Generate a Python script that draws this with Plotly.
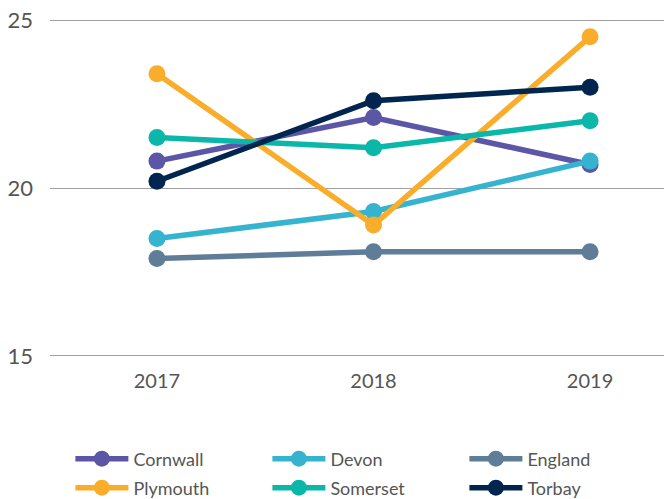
import plotly.graph_objects as go

years = [2017, 2018, 2019]
cornwall = [20.8, 22.1, 20.7]
devon = [18.5, 19.3, 20.8]
england = [17.9, 18.1, 18.1]
plymouth = [23.4, 18.9, 24.5]
somerset = [21.5, 21.2, 22.0]
torbay = [20.2, 22.6, 23.0]

series = [
    ("Cornwall", cornwall, "#5B57A6", "legend"),
    ("Devon", devon, "#36B3CF", "legend"),
    ("England", england, "#5F7C99", "legend"),
    ("Plymouth", plymouth, "#F9AD2A", "legend2"),
    ("Somerset", somerset, "#0BB7A9", "legend2"),
    ("Torbay", torbay, "#00264F", "legend2"),
]

fig = go.Figure()
for name, vals, col, leg in series:
    fig.add_trace(go.Scatter(
        x=years, y=vals, name=name, mode="lines+markers",
        line=dict(color=col, width=5.5),
        marker=dict(color=col, size=17),
        legend=leg,
    ))

legend_common = dict(
    orientation="h", xanchor="left", yanchor="middle",
    entrywidth=129, entrywidthmode="pixels",
    font=dict(size=18, color="#555555"),
    itemwidth=53, bgcolor="rgba(0,0,0,0)",
)

fig.update_layout(
    width=672, height=499,
    margin=dict(l=42, r=12, t=11, b=150, autoexpand=False),
    paper_bgcolor="white", plot_bgcolor="white",
    font=dict(family="Lato, sans-serif", color="#555555"),
    showlegend=True,
    legend=dict(x=0.033, y=-(451 - 349) / 338, **legend_common),
    legend2=dict(x=0.033, y=-(480 - 349) / 338, **legend_common),
    xaxis=dict(
        range=[2017 - 0.494, 2019 + 0.36],
        tickvals=years, ticktext=[str(y) for y in years],
        showgrid=False, zeroline=False, showline=False,
        tickfont=dict(size=20, color="#555555"),
        ticklabelstandoff=10, automargin=False,
    ),
    yaxis=dict(
        range=[14.97, 25.03], tickvals=[15, 20, 25],
        showgrid=True, gridcolor="#A0A0A0", gridwidth=1,
        zeroline=False, showline=False,
        tickfont=dict(size=22, color="#555555"),
        ticklabelstandoff=16, automargin=False,
        ticklabeloverflow="allow",
    ),
)

fig.write_html("out.html")
